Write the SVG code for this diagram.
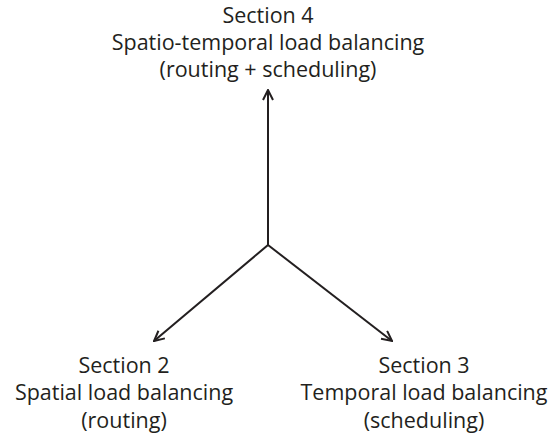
<svg xmlns="http://www.w3.org/2000/svg" width="548" height="440" viewBox="0 0 548 440">
<style>
text{font-family:"Open Sans","Liberation Sans",sans-serif;font-size:21.5px;fill:#231f20;text-anchor:middle}
.c{stroke:#231f20;stroke-width:2;fill:none}
</style>
<defs>
<marker id="ah" viewBox="0 0 12 12" refX="11" refY="6" markerWidth="12" markerHeight="12" markerUnits="userSpaceOnUse" orient="auto">
<path d="M1,1 L11,6 L1,11" fill="none" stroke="#231f20" stroke-width="2"/>
</marker>
</defs>
<rect width="548" height="440" fill="#fff"/>
<g id="connectors">
<line class="c" x1="268" y1="245" x2="268" y2="90" marker-end="url(#ah)"/>
<line class="c" x1="268" y1="245" x2="154" y2="341" marker-end="url(#ah)"/>
<line class="c" x1="268" y1="245" x2="392" y2="341" marker-end="url(#ah)"/>
</g>
<g id="section4">
<text x="268" y="23">Section 4</text>
<text x="268" y="50">Spatio-temporal load balancing</text>
<text x="268" y="77">(routing + scheduling)</text>
</g>
<g id="section2">
<text x="124" y="373">Section 2</text>
<text x="124" y="400">Spatial load balancing</text>
<text x="124" y="428">(routing)</text>
</g>
<g id="section3">
<text x="424" y="373">Section 3</text>
<text x="424" y="400">Temporal load balancing</text>
<text x="424" y="428">(scheduling)</text>
</g>
</svg>
